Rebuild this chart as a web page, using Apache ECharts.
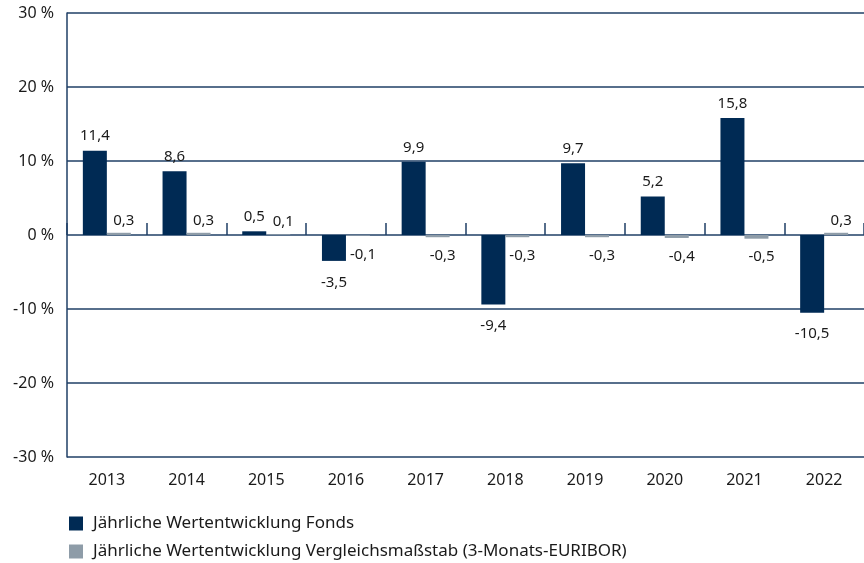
<!DOCTYPE html>
<html><head><meta charset="utf-8">
<script src="https://cdn.jsdelivr.net/npm/echarts@6/dist/echarts.min.js"></script>
<style>html,body{margin:0;padding:0;background:#fff}#c{width:864px;height:563px}</style>
</head><body><div id="c"></div>
<script>
const years = ['2013','2014','2015','2016','2017','2018','2019','2020','2021','2022'];
const fonds = [11.4, 8.6, 0.5, -3.5, 9.9, -9.4, 9.7, 5.2, 15.8, -10.5];
const benchmark = [0.3, 0.3, 0.1, -0.1, -0.3, -0.3, -0.3, -0.4, -0.5, 0.3];
const seriesNames = ['Jährliche Wertentwicklung Fonds', 'Jährliche Wertentwicklung Vergleichsmaßstab (3-Monats-EURIBOR)'];

const FONT = 'Noto Sans';
const fmt = v => String(v).replace('.', ',');
function mk(vals, dPos, dNeg) {
  return vals.map(v => ({
    value: v,
    label: { position: v >= 0 ? 'top' : 'bottom', distance: v >= 0 ? dPos : dNeg }
  }));
}
const legendBase = {
  orient: 'vertical', left: 64, itemWidth: 14, itemHeight: 14,
  icon: 'rect',
  textStyle: { fontFamily: FONT, fontSize: 17, color: '#1a1a1a', padding: [0,0,0,5] }
};
const chart = echarts.init(document.getElementById('c'), null, {renderer: 'canvas'});
chart.setOption({
  animation: false,
  grid: { left: 67, right: 0, top: 13, bottom: 106 },
  legend: [
    Object.assign({}, legendBase, { top: 510, data: [seriesNames[0]] }),
    Object.assign({}, legendBase, { top: 538, data: [seriesNames[1]] })
  ],
  xAxis: [
    { type: 'category', data: years, position: 'bottom',
      axisLine: { show: false }, axisTick: { show: false },
      axisLabel: { fontFamily: FONT, fontSize: 16, color: '#1a1a1a', margin: 15 } },
    { type: 'category', data: years, position: 'bottom', offset: -222,
      axisLine: { show: false, onZero: false },
      axisTick: { show: true, inside: true, length: 12, lineStyle: { color: '#1f3f66', width: 1.5 } },
      axisLabel: { show: false } }
  ],
  yAxis: {
    type: 'value', min: -30, max: 30, interval: 10,
    axisLine: { show: true, lineStyle: { color: '#1f3f66', width: 1.5 } },
    axisTick: { show: false },
    splitLine: { lineStyle: { color: '#1f3f66', width: 1.5 } },
    axisLabel: { formatter: v => v + ' %', fontFamily: FONT, fontSize: 16, color: '#1a1a1a', margin: 13 }
  },
  series: [
    { name: seriesNames[0], type: 'bar', data: mk(fonds, 7, 14), barWidth: 24, barGap: '0%',
      itemStyle: { color: '#002a54' },
      label: { show: true, formatter: p => fmt(p.value), fontFamily: FONT, fontSize: 15, color: '#1a1a1a' } },
    { name: seriesNames[1], type: 'bar', data: mk(benchmark, 5, 11), barWidth: 24, barGap: '0%',
      itemStyle: { color: '#8e9ca8' },
      label: { show: true, offset: [5, 0], formatter: p => fmt(p.value), fontFamily: FONT, fontSize: 15, color: '#1a1a1a' } }
  ]
});
</script></body></html>
